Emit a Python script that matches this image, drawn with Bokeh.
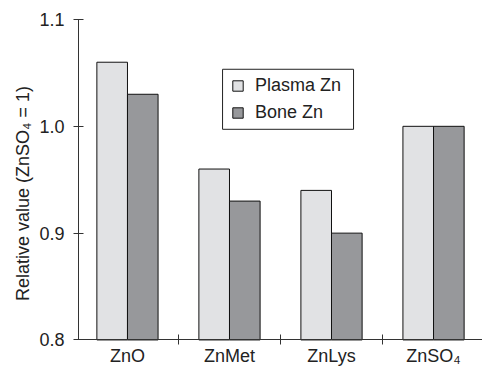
from bokeh.plotting import figure
from bokeh.models import (ColumnDataSource, Range1d, FixedTicker, NumeralTickFormatter,
                          Legend, LegendItem, BoxAnnotation)
from bokeh.transform import dodge
from bokeh.embed import file_html
from bokeh.resources import INLINE

categories = ["ZnO", "ZnMet", "ZnLys", "ZnSO\u2084"]
plasma_zn = [1.06, 0.96, 0.94, 1.00]
bone_zn = [1.03, 0.93, 0.90, 1.00]
y_ticks = [0.8, 0.9, 1.0, 1.1]
y_label = "Relative value (ZnSO\u2084 = 1)"

FONT = "Liberation Sans"
TXT = "#222222"
FS = "18px"
BASE = y_ticks[0]

centers = [i + 0.5 for i in range(len(categories))]
src = ColumnDataSource(dict(x=centers, plasma=plasma_zn, bone=bone_zn))

p = figure(width=482, height=367, output_backend="svg", toolbar_location=None,
           x_range=Range1d(0.02, 3.98), y_range=Range1d(BASE - 0.0258, 1.1),
           min_border_top=19, min_border_right=0, min_border_left=78, min_border_bottom=0)
p.outline_line_color = None
p.grid.visible = False
p.background_fill_color = "white"

r1 = p.vbar(x=dodge("x", -0.15, range=p.x_range), top="plasma", bottom=BASE, width=0.3,
            source=src, fill_color="#e1e2e4", line_color="#111111", line_width=1)
r2 = p.vbar(x=dodge("x", 0.15, range=p.x_range), top="bone", bottom=BASE, width=0.3,
            source=src, fill_color="#97989b", line_color="#111111", line_width=1)

# x axis at y = 0.8, ticks between categories
xa = p.xaxis[0]
xa.fixed_location = BASE
xa.ticker = FixedTicker(ticks=centers, minor_ticks=[1, 2, 3])
xa.major_label_overrides = {c: n for c, n in zip(centers, categories)}
xa.major_label_text_font = FONT
xa.major_label_text_font_size = FS
xa.major_label_text_color = TXT
xa.major_label_standoff = 1
xa.major_tick_in = 0
xa.major_tick_out = 0
xa.minor_tick_in = 5
xa.minor_tick_out = 5
xa.axis_line_color = "#333333"
xa.minor_tick_line_color = "#333333"

# y axis
ya = p.yaxis[0]
ya.bounds = (BASE, 1.1)
ya.ticker = FixedTicker(ticks=y_ticks, minor_ticks=[])
ya.formatter = NumeralTickFormatter(format="0.0")
ya.major_tick_in = 5
ya.major_tick_out = 5
ya.major_label_standoff = 9
ya.major_label_text_font = FONT
ya.major_label_text_font_size = FS
ya.major_label_text_color = TXT
ya.axis_line_color = "#333333"
ya.major_tick_line_color = "#333333"
ya.axis_label = y_label
ya.axis_label_text_font = FONT
ya.axis_label_text_font_size = FS
ya.axis_label_text_font_style = "normal"
ya.axis_label_text_color = TXT
ya.axis_label_standoff = 3

legend = Legend(items=[LegendItem(label="Plasma Zn", renderers=[r1]),
                       LegendItem(label="Bone Zn", renderers=[r2])],
                location=(147, 238), padding=6, spacing=6, margin=0,
                glyph_width=13, glyph_height=13, label_height=20, label_standoff=11,
                label_text_font=FONT, label_text_font_size=FS, label_text_color=TXT,
                border_line_alpha=0, background_fill_alpha=0)
p.add_layout(legend, "center")

# legend frame
p.add_layout(BoxAnnotation(left=1.432, right=2.716, top=1.0534, bottom=0.9972,
                           fill_color="white", fill_alpha=1.0, line_color="#222222",
                           line_width=1, line_alpha=1.0, level="annotation"))

open("out.html", "w").write(file_html(p, INLINE))
